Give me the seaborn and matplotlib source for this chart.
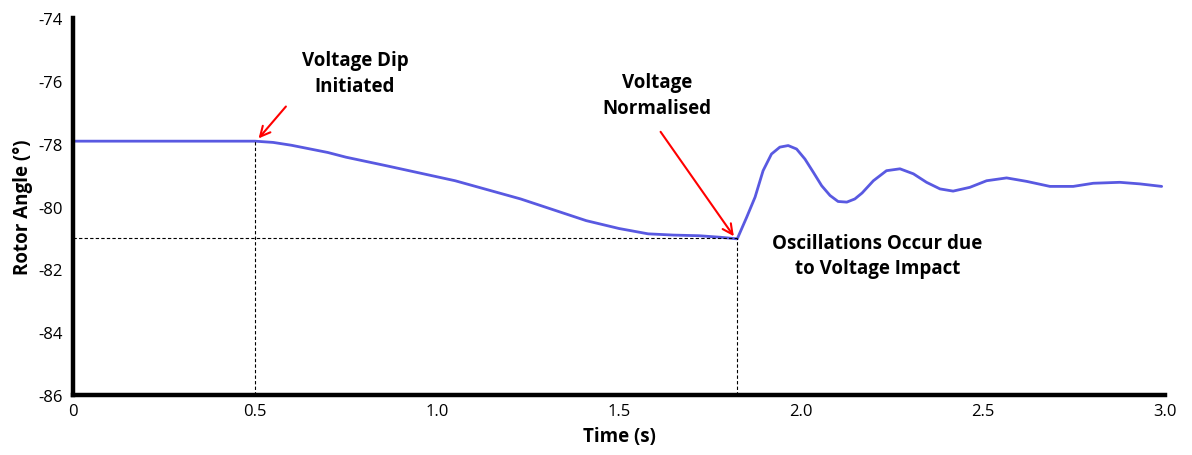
import matplotlib
matplotlib.use("Agg")
import matplotlib.pyplot as plt
import seaborn as sns
import pandas as pd
from matplotlib.ticker import MultipleLocator

time_s = [0.0, 0.50, 0.55, 0.60, 0.70, 0.75, 0.86, 1.05, 1.23, 1.41, 1.50, 1.58,
          1.65, 1.72, 1.78, 1.825, 1.851, 1.874, 1.896, 1.919, 1.942, 1.965,
          1.988, 2.011, 2.034, 2.057, 2.080, 2.102, 2.126, 2.148, 2.168, 2.199,
          2.235, 2.272, 2.309, 2.345, 2.382, 2.418, 2.464, 2.510, 2.565, 2.62,
          2.684, 2.748, 2.803, 2.876, 2.931, 2.991]
rotor_angle = [-77.92, -77.92, -77.96, -78.05, -78.28, -78.43, -78.70, -79.18,
               -79.76, -80.45, -80.70, -80.87, -80.91, -80.93, -80.98, -81.03,
               -80.34, -79.70, -78.86, -78.33, -78.11, -78.06, -78.17, -78.49,
               -78.91, -79.34, -79.65, -79.84, -79.86, -79.76, -79.57, -79.18,
               -78.86, -78.80, -78.96, -79.23, -79.44, -79.51, -79.39, -79.18,
               -79.09, -79.20, -79.36, -79.36, -79.26, -79.23, -79.28, -79.36]

x_ticks = [0, 0.5, 1.0, 1.5, 2.0, 2.5, 3.0]
x_tick_labels = ["0", "0.5", "1.0", "1.5", "2.0", "2.5", "3.0"]
y_ticks = [-86, -84, -82, -80, -78, -76, -74]

dip_time = 0.5
dip_angle = -77.92
norm_time = 1.825
norm_angle = -81.0

sns.set_style("white")
plt.rcParams["font.family"] = ["Open Sans", "DejaVu Sans"]
plt.rcParams["axes.unicode_minus"] = False
for key in ["text.color", "axes.labelcolor", "xtick.color", "ytick.color"]:
    plt.rcParams[key] = "black"

fig = plt.figure(figsize=(11.92, 4.56), dpi=100)
ax = fig.add_axes([0.0612, 0.1316, 0.9161, 0.8267])

df = pd.DataFrame({"Time (s)": time_s, "Rotor Angle": rotor_angle})
sns.lineplot(data=df, x="Time (s)", y="Rotor Angle", ax=ax, color="#3c3cdc",
             linewidth=2.0, alpha=0.85, solid_joinstyle="round", solid_capstyle="round")

ax.set_xlim(0, 3.0)
ax.set_ylim(-86, -74)
ax.set_xticks(x_ticks)
ax.set_xticklabels(x_tick_labels)
ax.set_yticks(y_ticks)
ax.xaxis.set_minor_locator(MultipleLocator(0.1))
ax.tick_params(axis="x", which="both", direction="in", length=4, width=1.2,
               labelsize=12, pad=6, color="black", labelcolor="black")
ax.tick_params(axis="y", which="major", direction="out", length=3, width=1,
               labelsize=12, pad=4, color="black", labelcolor="black")

for side in ["top", "right"]:
    ax.spines[side].set_visible(False)
for side in ["left", "bottom"]:
    ax.spines[side].set_linewidth(3.2)
    ax.spines[side].set_color("black")

ax.set_xlabel("Time (s)", fontsize=13.5, fontweight="bold", labelpad=5, color="black")
ax.set_ylabel("Rotor Angle (°)", fontsize=13.5, fontweight="bold", labelpad=4, color="black")

# dashed reference lines
ax.plot([dip_time, dip_time], [-86, dip_angle], ls=(0, (3, 2)), color="black", lw=0.8)
ax.plot([norm_time, norm_time], [-86, norm_angle], ls=(0, (3, 2)), color="black", lw=0.8)
ax.plot([0, norm_time], [norm_angle, norm_angle], ls=(0, (3, 2)), color="black", lw=0.8)

# annotations
ax.annotate("", xy=(dip_time + 0.005, dip_angle + 0.02), xytext=(0.59, -76.75),
            arrowprops=dict(arrowstyle="->", color="red", lw=1.5, mutation_scale=18))
ax.annotate("", xy=(norm_time - 0.005, norm_angle - 0.02), xytext=(1.61, -77.55),
            arrowprops=dict(arrowstyle="->", color="red", lw=1.5, mutation_scale=18))

ax.text(0.775, -75.75, "Voltage Dip\nInitiated", ha="center", va="center",
        fontsize=13.5, fontweight="bold", linespacing=1.35, color="black")
ax.text(1.605, -76.45, "Voltage\nNormalised", ha="center", va="center",
        fontsize=13.5, fontweight="bold", linespacing=1.35, color="black")
ax.text(2.21, -81.55, "Oscillations Occur due\nto Voltage Impact", ha="center",
        va="center", fontsize=13.5, fontweight="bold", linespacing=1.35, color="black")

fig.savefig("out.png", dpi=100)
